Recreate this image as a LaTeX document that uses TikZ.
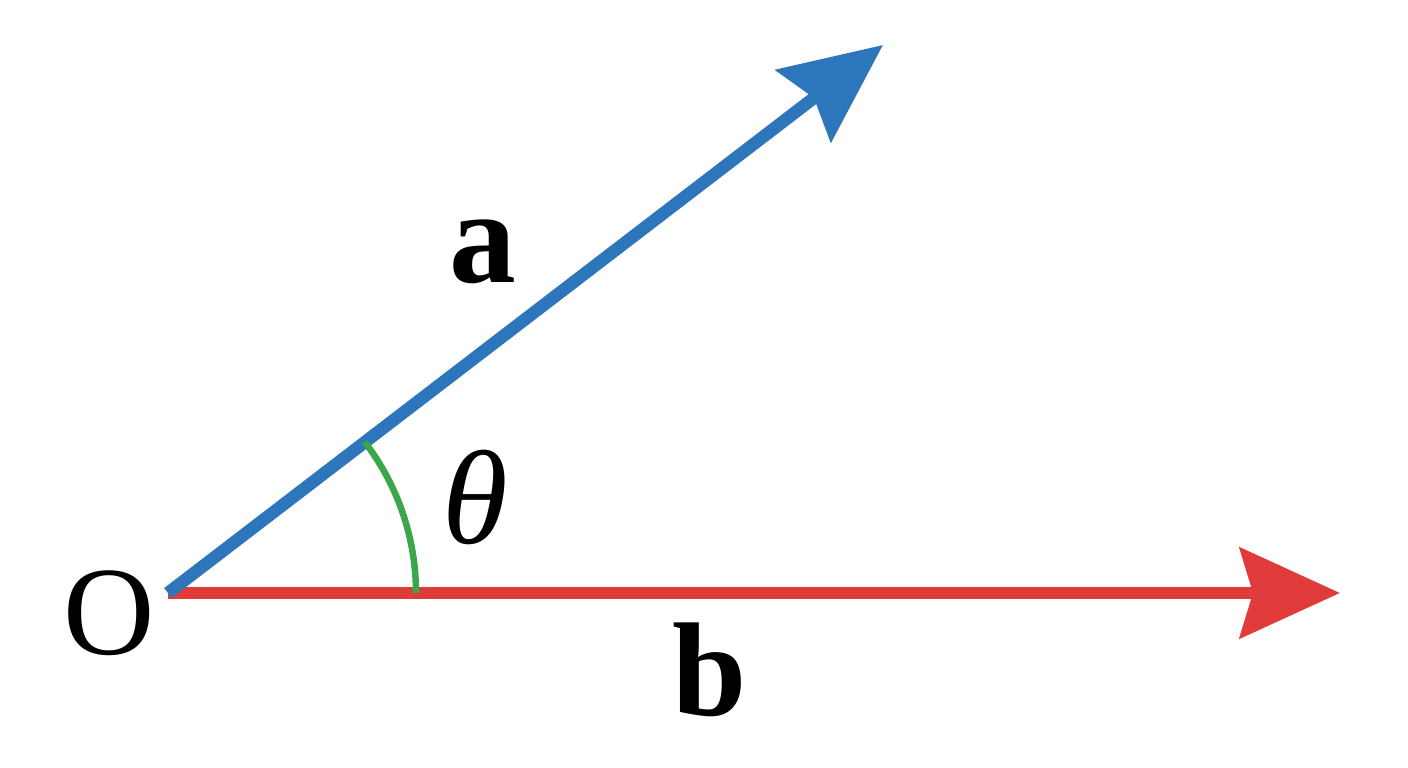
\documentclass[tikz,border=0pt]{standalone}
\usepackage{fontspec}
\setmainfont{Liberation Serif}
\usetikzlibrary{arrows.meta}
\definecolor{vecblue}{RGB}{46,118,188}
\definecolor{vecred}{RGB}{224,58,58}
\definecolor{anggreen}{RGB}{60,166,74}
\tikzset{
	vec/.style={line width=0.125cm, -{Stealth[length=1cm, width=0.9cm, inset=0.13cm]}},
	lbl/.style={font=\fontsize{38}{40}\selectfont}
}
\begin{document}
\begin{tikzpicture}
	\useasboundingbox (0, 0) rectangle (14.08, 7.68);
	
	\coordinate (O) at (1.68, 1.75);
	\coordinate (A) at (8.83, 7.23);
	\coordinate (B) at (13.40, 1.75);
	
	\draw[vecred, vec] (O) -- (B);
	\draw[vecblue, vec] (O) -- (A);
	\draw[anggreen, line width=0.065cm] ([shift={(0:2.48)}]O) arc (0:37.5:2.48);
	
	\node[lbl, font=\fontsize{36}{40}\selectfont] (o) at (1.09, 1.55) {O};
	\node[lbl] (a) at (4.83, 5.16) {\textbf{a}};
	\node[lbl] (b) at (7.10, 0.98) {\textbf{b}};
	\node[lbl] (t) at (4.75, 2.71) {\textit{θ}};
\end{tikzpicture}
\end{document}
